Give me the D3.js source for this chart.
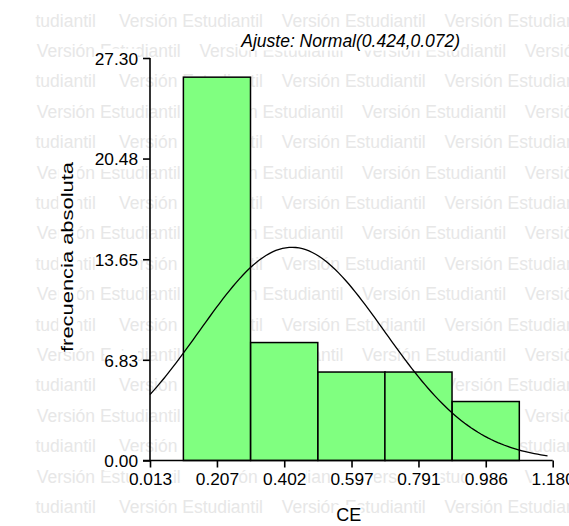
<!DOCTYPE html>
<html>
<head>
<meta charset="utf-8">
<script src="https://cdn.jsdelivr.net/npm/d3@7"></script>
<style>
  html, body { margin: 0; padding: 0; background: #fff; }
  svg { display: block; }
  text { font-family: "Liberation Sans", Arial, sans-serif; }
</style>
</head>
<body>
<svg id="chart" width="569" height="526"></svg>
<script>
// Histogram of CE with fitted normal curve
const binCenters = [0.207, 0.402, 0.597, 0.791, 0.986];
const counts = [26, 8, 6, 6, 4];
const binWidth = 0.1945;

const xTicks = [0.013, 0.207, 0.402, 0.597, 0.791, 0.986, 1.180];
const xTickLabels = ["0.013", "0.207", "0.402", "0.597", "0.791", "0.986", "1.180"];
const yTicks = [0, 6.83, 13.65, 20.48, 27.30];
const yTickLabels = ["0.00", "6.83", "13.65", "20.48", "27.30"];

// Normal fit parameters (mean, variance) as printed in the title
const fitMean = 0.424;
const fitVar = 0.072;
const curveRange = [0.013, 1.165];

const titleText = "Ajuste: Normal(0.424,0.072)";
const xLabel = "CE";
const yLabel = "frecuencia absoluta";
const watermarkWord = "Versión Estudiantil";
const watermarkTail = "tudiantil";

const svg = d3.select("#chart");

const x = d3.scaleLinear().domain([0.013, 1.180]).range([150, 552.7]);
const y = d3.scaleLinear().domain([0, 27.30]).range([460.5, 58]);

// --- tiled watermark
const wm = svg.append("g").attr("fill", "#e7e7e7").attr("font-size", 17.5);
for (let k = 0; k < 17; k++) {
  const yy = 26.6 + 30.4 * k;
  if (k % 2 === 0) {
    wm.append("text").attr("x", 35.5).attr("y", yy).text(watermarkTail);
    for (let j = 0; j < 3; j++) wm.append("text").attr("x", 119 + 162.7 * j).attr("y", yy).text(watermarkWord);
  } else {
    for (let j = 0; j < 4; j++) wm.append("text").attr("x", 36.7 + 162.7 * j).attr("y", yy).text(watermarkWord);
  }
}

// --- bars
svg.append("g").selectAll("rect").data(binCenters).join("rect")
  .attr("x", d => x(d - binWidth / 2))
  .attr("width", d => x(d + binWidth / 2) - x(d - binWidth / 2))
  .attr("y", (d, i) => y(counts[i]))
  .attr("height", (d, i) => y(0) - y(counts[i]))
  .attr("fill", "#80ff80")
  .attr("stroke", "#000")
  .attr("stroke-width", 1.5);

// --- fitted normal curve scaled to counts
const n = d3.sum(counts);
const sd = Math.sqrt(fitVar);
const dens = v => n * binWidth * Math.exp(-0.5 * ((v - fitMean) / sd) ** 2) / (sd * Math.sqrt(2 * Math.PI));
const pts = d3.range(0, 121).map(i => curveRange[0] + (curveRange[1] - curveRange[0]) * i / 120);
svg.append("path")
  .datum(pts)
  .attr("fill", "none")
  .attr("stroke", "#000")
  .attr("stroke-width", 1.3)
  .attr("d", d3.line().x(d => x(d)).y(d => y(dens(d))));

// --- axes
const yAxis = d3.axisLeft(y).tickValues(yTicks).tickFormat((d, i) => yTickLabels[i]).tickSize(7).tickPadding(5);
const xAxis = d3.axisBottom(x).tickValues(xTicks).tickFormat((d, i) => xTickLabels[i]).tickSize(7).tickPadding(5);

const gy = svg.append("g").attr("transform", "translate(150,0)").call(yAxis);
const gx = svg.append("g").attr("transform", "translate(0,460.5)").call(xAxis);

[gx, gy].forEach(g => {
  g.select(".domain").remove();
  g.selectAll(".tick line").attr("stroke", "#000").attr("stroke-width", 1.6);
  g.selectAll(".tick text").attr("fill", "#000").attr("font-size", 17.3)
    .attr("font-family", "'Liberation Sans', Arial, sans-serif");
});
gy.selectAll(".tick text").attr("dy", "0.36em");
gx.selectAll(".tick text").attr("dy", "0.75em");

// axis lines
svg.append("line").attr("x1", x(0.013)).attr("x2", x(0.013)).attr("y1", y(27.30)).attr("y2", y(0))
  .attr("stroke", "#000").attr("stroke-width", 1.6);
svg.append("line").attr("x1", 143).attr("x2", x(1.180)).attr("y1", y(0)).attr("y2", y(0))
  .attr("stroke", "#000").attr("stroke-width", 1.6);

// --- titles
const title = svg.append("text").attr("x", 350.7).attr("y", 46.5)
  .attr("text-anchor", "middle").attr("font-size", 17.5).attr("font-style", "italic")
  .text(titleText);
const xl = svg.append("text").attr("x", 348.8).attr("y", 521)
  .attr("text-anchor", "middle").attr("font-size", 18).text(xLabel);
const yl = svg.append("text").attr("transform", "translate(73.3,257) rotate(-90)")
  .attr("text-anchor", "middle").attr("font-size", 17)
  .attr("textLength", 190).attr("lengthAdjust", "spacingAndGlyphs").text(yLabel);

// white backing boxes behind every label so the watermark does not show through
function backWhite(sel) {
  sel.each(function () {
    const bb = this.getBBox();
    const parent = this.parentNode;
    const r = document.createElementNS("http://www.w3.org/2000/svg", "rect");
    r.setAttribute("x", bb.x);
    r.setAttribute("y", bb.y);
    r.setAttribute("width", bb.width);
    r.setAttribute("height", bb.height);
    r.setAttribute("fill", "#fff");
    const t = this.getAttribute("transform");
    if (t) r.setAttribute("transform", t);
    parent.insertBefore(r, this);
  });
}
backWhite(gx.selectAll(".tick text"));
backWhite(gy.selectAll(".tick text"));
backWhite(title);
backWhite(xl);
backWhite(yl);
</script>
</body>
</html>
